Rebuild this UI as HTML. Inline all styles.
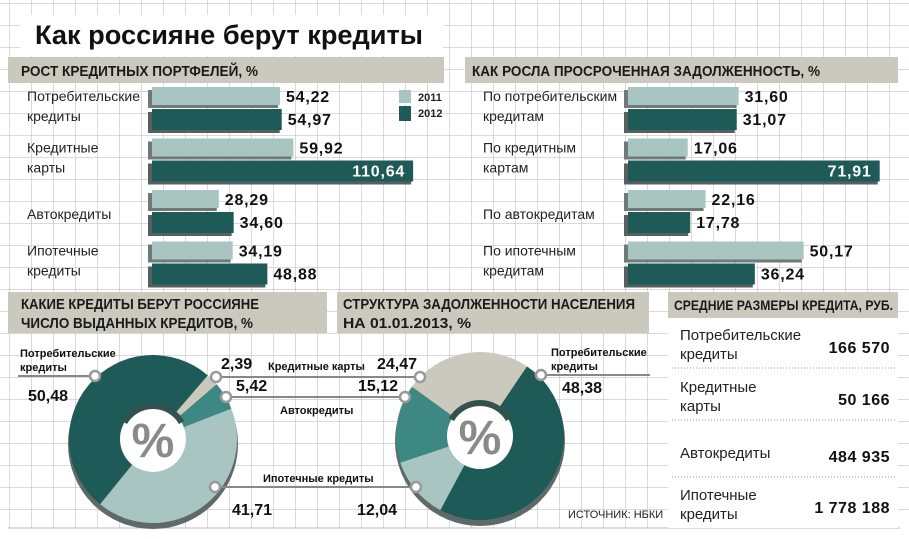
<!DOCTYPE html>
<html><head><meta charset="utf-8">
<style>
html,body{margin:0;padding:0;background:#fff;}
#root{position:relative;width:909px;height:539px;overflow:hidden;font-family:"Liberation Sans","DejaVu Sans",sans-serif;}
svg text{font-family:"Liberation Sans","DejaVu Sans",sans-serif;}
</style></head>
<body>
<div id="root">
<svg id="svg" width="909" height="539" viewBox="0 0 909 539" xmlns="http://www.w3.org/2000/svg">
<defs>
<pattern id="grid" width="22" height="22" patternUnits="userSpaceOnUse" x="10" y="4">
<path d="M22 0 V22 M0 22 H22" stroke="#b4b4b4" stroke-width="1" fill="none"/>
</pattern>
</defs>
<rect x="0" y="0" width="909" height="539" fill="#fff"/>
<rect x="0" y="0" width="909" height="528" fill="url(#grid)"/>
<rect x="0" y="528" width="909" height="11" fill="#fff"/>
<line x1="8" y1="528" x2="900" y2="528" stroke="#bbb"/>
<rect x="20" y="15" width="423" height="41" fill="#fff"/>
<text x="35" y="44" font-size="27" font-weight="bold" fill="#111" textLength="388" lengthAdjust="spacingAndGlyphs">Как россияне берут кредиты</text>
<rect x="8" y="57" width="436" height="26" fill="#cbc9bd"/>
<text x="21" y="76" font-size="15" font-weight="bold" fill="#1a1a1a" textLength="237" lengthAdjust="spacingAndGlyphs">РОСТ КРЕДИТНЫХ ПОРТФЕЛЕЙ, %</text>
<rect x="465" y="57" width="433" height="26" fill="#cbc9bd"/>
<text x="472" y="76" font-size="15" font-weight="bold" fill="#1a1a1a" textLength="348" lengthAdjust="spacingAndGlyphs">КАК РОСЛА ПРОСРОЧЕННАЯ ЗАДОЛЖЕННОСТЬ, %</text>
<rect x="8" y="292" width="319" height="41" fill="#cbc9bd"/>
<text x="21" y="309" font-size="15" font-weight="bold" fill="#1a1a1a" textLength="238" lengthAdjust="spacingAndGlyphs">КАКИЕ КРЕДИТЫ БЕРУТ РОССИЯНЕ</text>
<text x="21" y="328" font-size="15" font-weight="bold" fill="#1a1a1a" textLength="232" lengthAdjust="spacingAndGlyphs">ЧИСЛО ВЫДАННЫХ КРЕДИТОВ, %</text>
<rect x="337" y="292" width="312" height="41" fill="#cbc9bd"/>
<text x="343" y="309" font-size="15" font-weight="bold" fill="#1a1a1a" textLength="292" lengthAdjust="spacingAndGlyphs">СТРУКТУРА ЗАДОЛЖЕННОСТИ НАСЕЛЕНИЯ</text>
<text x="343" y="328" font-size="15" font-weight="bold" fill="#1a1a1a" textLength="128" lengthAdjust="spacingAndGlyphs">НА 01.01.2013, %</text>
<rect x="668" y="292" width="230" height="26" fill="#cbc9bd"/>
<text x="674" y="310" font-size="14" font-weight="bold" fill="#1a1a1a" textLength="219" lengthAdjust="spacingAndGlyphs">СРЕДНИЕ РАЗМЕРЫ КРЕДИТА, РУБ.</text>
<rect x="668" y="318" width="230" height="210" fill="#fff"/>
<rect x="399" y="90" width="12" height="13" fill="#a8c5c2"/>
<text x="418" y="101" font-size="11" font-weight="bold" fill="#222">2011</text>
<rect x="399" y="106" width="12" height="15" fill="#1e5a57"/>
<text x="418" y="117" font-size="11" font-weight="bold" fill="#222">2012</text>
<g id="bars"></g>
<g id="donuts"></g>
<g id="table"></g>
<text x="568" y="518" font-size="11" fill="#222">ИСТОЧНИК: НБКИ</text>
</svg>
</div>
<script>
const NS = "http://www.w3.org/2000/svg";
const portfolioCats = [["Потребительские","кредиты"],["Кредитные","карты"],["Автокредиты"],["Ипотечные","кредиты"]];
const portfolio2011 = [54.22, 59.92, 28.29, 34.19];
const portfolio2012 = [54.97, 110.64, 34.60, 48.88];
const portfolioLabels2011 = ["54,22","59,92","28,29","34,19"];
const portfolioLabels2012 = ["54,97","110,64","34,60","48,88"];
const overdueCats = [["По потребительским","кредитам"],["По кредитным","картам"],["По автокредитам"],["По ипотечным","кредитам"]];
const overdue2011 = [31.60, 17.06, 22.16, 50.17];
const overdue2012 = [31.07, 71.91, 17.78, 36.24];
const overdueLabels2011 = ["31,60","17,06","22,16","50,17"];
const overdueLabels2012 = ["31,07","71,91","17,78","36,24"];
const issuedCats = ["Потребительские кредиты","Кредитные карты","Автокредиты","Ипотечные кредиты"];
const issuedValues = [50.48, 2.39, 5.42, 41.71];
const structureValues = [48.38, 24.47, 15.12, 12.04];
const issuedLabels = ["50,48","2,39","5,42","41,71"];
const structureLabels = ["48,38","24,47","15,12","12,04"];
const avgCats = [["Потребительские","кредиты"],["Кредитные","карты"],["Автокредиты"],["Ипотечные","кредиты"]];
const avgValues = ["166 570","50 166","484 935","1 778 188"];

function mk(tag, attrs, parent){const e=document.createElementNS(NS,tag);for(const k in attrs)e.setAttribute(k,attrs[k]);parent.appendChild(e);return e;}
const LIGHT="#a8c5c2", DARK="#1e5a57", TEAL="#3d8883", BEIGE="#cbc9bd";

function barChart(g, cats, v1, v2, l1, l2, x0, scale, labelX, key){
  const groupY = i => 87 + i*51.5;
  cats.forEach((c,i)=>{
    const y = groupY(i);
    const lbl = mk('text',{x:labelX,y:(c.length>1? y+14 : y+29),'font-size':14,fill:'#222'},g);
    
    
    c.forEach((line,j)=>{const t=mk('tspan',{x:labelX,dy:j?20:0},lbl);t.textContent=line;});
    const w1 = v1[i]*scale, w2 = v2[i]*scale;
    mk('rect',{x:x0-4,y:y+3,width:w1+2,height:18,fill:'#6f7977'},g);
    const b1 = mk('rect',{x:x0,y:y,width:w1,height:18,fill:LIGHT},g);
    
    
    mk('rect',{x:x0-4,y:y+25,width:w2+2,height:21,fill:'#56605e'},g);
    const b2 = mk('rect',{x:x0,y:y+22,width:w2,height:21,fill:DARK},g);
    
    
    const t1 = mk('text',{x:x0+w1+6,y:y+15,'font-size':16,'font-weight':'bold','letter-spacing':0.8,fill:'#111'},g);
    t1.textContent = l1[i];
    
    
    const inside = w2 > 200;
    const t2 = mk('text',{x: inside? x0+w2-8 : x0+w2+6, y:y+38,'font-size':16,'font-weight':'bold','letter-spacing':0.8,fill: inside?'#fff':'#111','text-anchor':inside?'end':'start'},g);
    t2.textContent = l2[i];
    
    
  });
}
const bars = document.getElementById('bars');
barChart(bars, portfolioCats, portfolio2011, portfolio2012, portfolioLabels2011, portfolioLabels2012, 152, 2.36, 27, 'portfolio');
barChart(bars, overdueCats, overdue2011, overdue2012, overdueLabels2011, overdueLabels2012, 628, 3.5, 483, 'overdue');

function arc(cx,cy,r0,r1,a0,a1){
  const p=(r,a)=>[cx+r*Math.sin(a*Math.PI/180), cy-r*Math.cos(a*Math.PI/180)];
  const large = (a1-a0)>180?1:0;
  const [x0,y0]=p(r1,a0),[x1,y1]=p(r1,a1),[x2,y2]=p(r0,a1),[x3,y3]=p(r0,a0);
  return `M${x0},${y0} A${r1},${r1} 0 ${large} 1 ${x1},${y1} L${x2},${y2} A${r0},${r0} 0 ${large} 0 ${x3},${y3} Z`;
}
function donut(g, cx, cy, values, colors, startOrder, startAngle, key){
  mk('circle',{cx:cx,cy:cy+5,r:85,fill:'#5f6a68'},g);
  let total = values.reduce((a,b)=>a+b,0);
  let a = startAngle;
  startOrder.forEach(i=>{
    const sweep = values[i]/total*360;
    const p = mk('path',{d:arc(cx,cy,33,84,a,a+sweep),fill:colors[i]},g);
    
    
    a += sweep;
  });
  mk('circle',{cx:cx,cy:cy,r:33,fill:'#fff'},g);
  mk('path',{d:arc(cx,cy,30,36,-60,60),fill:'#35514f'},g);
  const pc = mk('text',{x:cx,y:cy+18,'font-size':48,'font-weight':'bold',fill:'#8a8a8a','text-anchor':'middle'},g);
  pc.textContent='%';
  
  
}
const dg = document.getElementById('donuts');
const cols = [DARK, BEIGE, TEAL, LIGHT];
donut(dg, 153, 439, issuedValues, cols, [0,1,2,3], 219, 'issued');
donut(dg, 480, 436, structureValues, cols, [0,3,2,1], 34, 'structure');

function line(x1,y1,x2,y2,name){const l=mk('line',{x1,y1,x2,y2,stroke:'#888','stroke-width':2},dg);}
function dot(x,y){mk('circle',{cx:x,cy:y,r:5,fill:'#fff',stroke:'#999','stroke-width':2.5},dg);}
function txt(x,y,s,size,bold,name,anchor){const t=mk('text',{x,y,'font-size':size,'font-weight':bold?'bold':'normal',fill:'#111','text-anchor':anchor||'start'},dg);t.textContent=s;return t;}
line(18,376,95,376,'consumer-connector');dot(95,376);
line(216,377,420,377,'cards-connector');dot(216,377);dot(420,377);
line(226,397,405,397,'auto-connector');dot(226,397);dot(405,397);
line(215,487,416,487,'mortgage-connector');dot(215,487);dot(416,487);
line(541,375,650,375,'structure-consumer-connector');dot(541,375);
txt(20,357,'Потребительские',11,true,'issued-consumer-label-1');
txt(20,371,'кредиты',11,true,'issued-consumer-label-2');
txt(28,401,issuedLabels[0],16,true,'issued-consumer-value');
txt(221,369,issuedLabels[1],16,true,'issued-cards-value');
txt(236,391,issuedLabels[2],16,true,'issued-auto-value');
txt(232,515,issuedLabels[3],16,true,'issued-mortgage-value');
txt(268,370,issuedCats[1],11,true,'cards-label');
txt(280,414,issuedCats[2],11,true,'auto-label');
txt(263,482,issuedCats[3],11,true,'mortgage-label');
txt(417,369,structureLabels[1],16,true,'structure-cards-value','end');
txt(398,391,structureLabels[2],16,true,'structure-auto-value','end');
txt(397,515,structureLabels[3],16,true,'structure-mortgage-value','end');
txt(551,356,'Потребительские',11,true,'structure-consumer-label-1');
txt(551,370,'кредиты',11,true,'structure-consumer-label-2');
txt(562,393,structureLabels[0],16,true,'structure-consumer-value');

const tg = document.getElementById('table');
const rowY = [340, 392, 449, 500];
avgCats.forEach((c,i)=>{
  const y = rowY[i];
  const t = mk('text',{x:680,y:(c.length>1? y : y+9),'font-size':15,fill:'#222'},tg);
  
  
  c.forEach((line,j)=>{const s=mk('tspan',{x:680,dy:j?19:0},t);s.textContent=line;});
  const v = mk('text',{x:890,y:y+13,'font-size':16,'font-weight':'bold','letter-spacing':0.5,fill:'#111','text-anchor':'end'},tg);
  v.textContent = avgValues[i];
  
  
  if(i<3){mk('line',{x1:672,y1:y+28,x2:895,y2:y+28,stroke:'#999','stroke-dasharray':'1,2'},tg);}
});
</script>
</body></html>
